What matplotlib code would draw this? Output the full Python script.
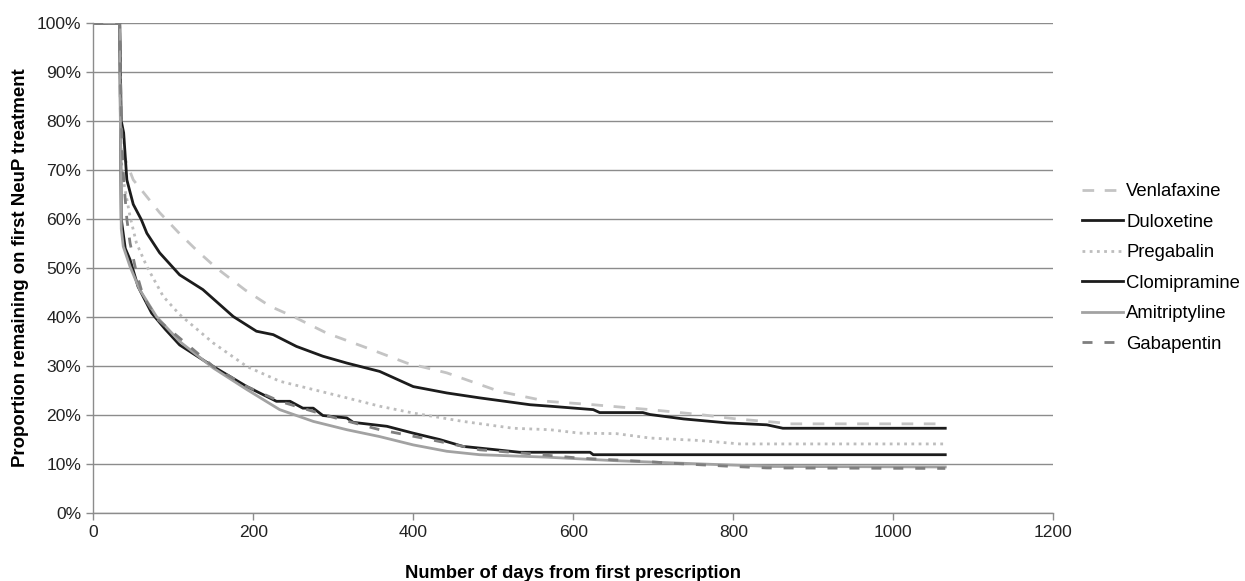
import matplotlib
matplotlib.use("Agg")
import matplotlib.pyplot as plt
from matplotlib.ticker import FuncFormatter

plt.rcParams['font.family'] = ['Liberation Sans', 'DejaVu Sans']

# Days since first prescription / % still on first NeuP treatment
venla_days = [0, 33, 34, 37, 50, 83, 108, 130, 154, 190, 221, 250, 292, 342, 392, 442, 508, 567, 625, 696, 758, 804, 854, 871, 1065]
venla_pct = [100, 100, 76, 73.5, 68, 61.3, 57, 53.5, 50, 45.5, 42.2, 40.1, 36.7, 33.7, 30.6, 28.6, 24.8, 22.8, 22.1, 21.1, 20.1, 19.2, 18.5, 18.2, 18.2]

dulox_days = [0, 33, 35, 38, 42, 50, 60, 67, 83, 108, 137, 175, 204, 225, 254, 287, 317, 358, 400, 442, 483, 546, 571, 625, 633, 687, 696, 738, 792, 842, 862, 1065]
dulox_pct = [100, 100, 80, 77.6, 68, 63, 59.9, 57.1, 53.1, 48.6, 45.6, 40.1, 37.1, 36.4, 34, 32, 30.6, 28.9, 25.8, 24.5, 23.5, 22.1, 21.8, 21.1, 20.5, 20.5, 20.1, 19.2, 18.4, 18, 17.3, 17.3]

pregab_days = [0, 33, 35, 37.5, 46, 54, 67, 87.5, 108, 150, 192, 233, 275, 317, 358, 400, 462, 525, 571, 608, 654, 696, 758, 808, 1065]
pregab_pct = [100, 100, 72, 68, 60.5, 55.1, 50.3, 44.2, 40.5, 34.7, 29.9, 26.9, 25.2, 23.5, 21.8, 20.4, 18.7, 17.3, 17, 16.3, 16.2, 15.3, 14.8, 14.1, 14.1]

clomi_days = [0, 33, 35, 40, 46, 56, 73, 90, 108, 150, 192, 229, 246, 262, 275, 287, 317, 325, 367, 400, 433, 462, 504, 533, 621, 625, 1065]
clomi_pct = [100, 100, 60, 54, 51.7, 46.2, 40.8, 37.5, 34.3, 29.9, 25.8, 22.8, 22.8, 21.4, 21.4, 19.9, 19.4, 18.5, 17.7, 16.3, 15, 13.6, 12.9, 12.4, 12.4, 11.9, 11.9]

amitr_days = [0, 33, 35, 37.5, 46, 58, 79, 108, 150, 192, 233, 275, 317, 358, 400, 442, 483, 567, 650, 729, 779, 850, 1065]
amitr_pct = [100, 100, 58, 54.4, 50.3, 45.6, 40.1, 35, 29.6, 25.2, 21.1, 18.7, 17, 15.6, 13.9, 12.6, 11.9, 11.4, 10.7, 10.2, 9.9, 9.5, 9.4]

gabap_days = [0, 33, 35, 38, 42, 46, 54, 62.5, 81, 108, 150, 192, 233, 296, 358, 421, 483, 546, 608, 692, 729, 800, 842, 1065]
gabap_pct = [100, 100, 80, 68, 60, 55.1, 49, 44.2, 39.4, 35.7, 29.9, 25.8, 22.8, 19.7, 17, 15, 12.9, 12.1, 11.2, 10.5, 10.1, 9.5, 9.2, 9.1]

x_ticks = [0, 200, 400, 600, 800, 1000, 1200]
y_ticks = [0, 10, 20, 30, 40, 50, 60, 70, 80, 90, 100]

fig = plt.figure(figsize=(12.45, 5.81), dpi=100)
ax = fig.add_axes([0.0749, 0.117, 0.7711, 0.8434])

lw = 2.0
ax.plot(venla_days, venla_pct, color='#c4c4c4', lw=lw, dashes=(4.2, 3.8), label='Venlafaxine')
ax.plot(dulox_days, dulox_pct, color='#1c1c1c', lw=lw, label='Duloxetine')
ax.plot(pregab_days, pregab_pct, color='#bdbdbd', lw=lw, dashes=(1, 1.6), label='Pregabalin')
ax.plot(clomi_days, clomi_pct, color='#1c1c1c', lw=lw, label='Clomipramine')
ax.plot(amitr_days, amitr_pct, color='#a2a2a2', lw=lw, label='Amitriptyline')
ax.plot(gabap_days, gabap_pct, color='#7f7f7f', lw=lw, dashes=(3.6, 4.3), label='Gabapentin')

ax.set_xlim(0, 1200)
ax.set_ylim(0, 100)
ax.set_xticks(x_ticks)
ax.set_yticks(y_ticks)
ax.yaxis.set_major_formatter(FuncFormatter(lambda v, p: f"{int(v)}%"))
ax.grid(axis='y', color='#8c8c8c', lw=1.0)
ax.set_axisbelow(True)
for s in ['top', 'right']:
    ax.spines[s].set_visible(False)
for s in ['left', 'bottom']:
    ax.spines[s].set_color('#8c8c8c')
    ax.spines[s].set_linewidth(1.0)
ax.tick_params(axis='both', colors='#8c8c8c', labelcolor='#222222', labelsize=12.6, length=5, width=1.0)

ax.set_xlabel('Number of days from first prescription', fontsize=13.2, fontweight='bold', labelpad=18)
ax.set_ylabel('Proportion remaining on first NeuP treatment', fontsize=13.4, fontweight='bold', labelpad=6)

fig.legend(loc='center left', bbox_to_anchor=(0.869, 0.539), frameon=False,
           fontsize=13.3, handlelength=2.2, handletextpad=0.2, labelspacing=0.73,
           borderpad=0, borderaxespad=0)

fig.savefig('out.png', dpi=100)
